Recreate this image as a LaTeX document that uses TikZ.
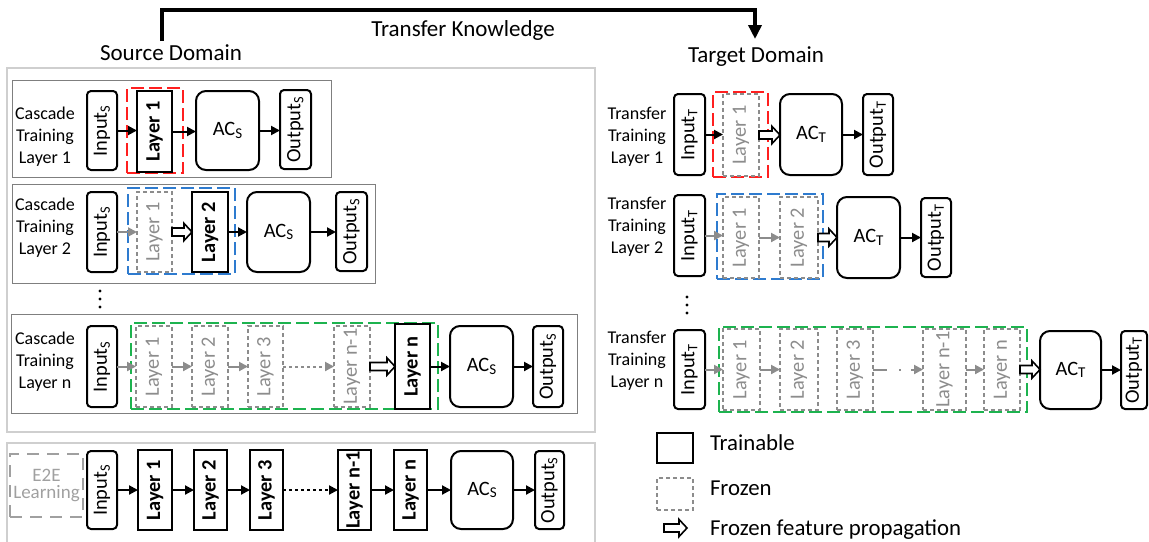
\documentclass[tikz,border=0pt]{standalone}
\usepackage{fontspec}
\setmainfont{Carlito}
\usepackage{graphicx}
\usetikzlibrary{arrows.meta,calc}
\definecolor{fz}{HTML}{8C8C8C}
\definecolor{rowgray}{HTML}{7F7F7F}
\definecolor{outergray}{HTML}{CFCFCF}
\definecolor{gred}{HTML}{FF1F1F}
\definecolor{gblue}{HTML}{2E7BCF}
\definecolor{ggreen}{HTML}{1DB34F}
\definecolor{e2egray}{HTML}{A0A0A0}
\newcommand{\bx}[7]{\node[#2, minimum width={(#5-#3)*0.5pt}, minimum height={(#6-#4)*0.5pt}] (#1) at ({(#3+#5)/2},{(#4+#6)/2}) {#7};}
\newcommand{\rt}[1]{\rotatebox{90}{#1}}
\newcommand{\hollowarr}[2]{\draw[line width=0.8pt, fill=white, line join=miter] let \p1=(#1), \p2=(#2) in (\x1,\y1+2pt) -- (\x2-4pt,\y1+2pt) -- (\x2-4pt,\y1+4.3pt) -- (\x2,\y1) -- (\x2-4pt,\y1-4.3pt) -- (\x2-4pt,\y1-2pt) -- (\x1,\y1-2pt) -- cycle;}
\newcommand{\acs}{AC\raisebox{-0.25ex}{\fontsize{7.5}{7.5}\selectfont S}}
\newcommand{\act}{AC\raisebox{-0.25ex}{\fontsize{7.5}{7.5}\selectfont T}}
\tikzset{
  every node/.style={inner sep=0pt, outer sep=0pt},
  boxfont/.style={font=\fontsize{10.2}{12}\selectfont},
  trainbox/.style={draw=black, line width=1.25pt, font=\fontsize{10.2}{12}\selectfont\bfseries},
  frozenbox/.style={draw=fz, line width=0.75pt, dash pattern=on 2pt off 1.5pt, text=fz, boxfont},
  iobox/.style={draw=black, line width=1pt, rounded corners=2pt, boxfont},
  acbox/.style={draw=black, line width=1pt, rounded corners=5pt, boxfont},
  rowbox/.style={draw=rowgray, line width=0.5pt},
  outerbox/.style={draw=outergray, line width=0.6pt},
  gredbox/.style={draw=gred, line width=0.8pt, dash pattern=on 6.5pt off 2.5pt},
  gbluebox/.style={draw=gblue, line width=0.8pt, dash pattern=on 6.5pt off 2.5pt},
  ggreenbox/.style={draw=ggreen, line width=0.8pt, dash pattern=on 6.5pt off 2.5pt},
  e2ebox/.style={draw=e2egray, line width=1.1pt, dash pattern=on 6pt off 4pt, text=e2egray, align=center, font=\fontsize{9.5}{8.8}\selectfont},
  lbl/.style={align=center, font=\fontsize{9}{11}\selectfont},
  head/.style={font=\fontsize{11.5}{13}\selectfont},
  legtext/.style={anchor=west, font=\fontsize{11.4}{13}\selectfont},
  arr/.style={line width=1pt, -{Triangle[length=4.5pt,width=4.5pt]}},
  garr/.style={arr, color=fz},
  bigarr/.style={line width=2pt, -{Triangle[length=7pt,width=6.5pt]}},
}
\begin{document}
\begin{tikzpicture}[x=0.5pt,y=-0.5pt]
\useasboundingbox (0,0) rectangle (1149,541);

% headings and top arrow
\node[head] (srcd) at (171,53) {Source Domain};
\node[head] (tk) at (463,30) {Transfer Knowledge};
\node[head] (tgtd) at (756,57) {Target Domain};
\coordinate (ts) at (162,41);
\coordinate (tc) at (755,10);
\coordinate (tt) at (755,39);
\draw[bigarr] (ts) |- (tc) -- (tt);

% outer boxes
\bx{srcbox}{outerbox}{7}{68}{595}{432}{}
\draw[outergray, line width=0.6pt] (7,548) -- (7,443) -- (595,443) -- (595,548);

% ===== Left row 1 =====
\bx{r1}{rowbox}{12}{80}{331}{177}{}
\node[lbl] (lab1) at (45,137) {Cascade\\Training\\Layer 1};
\bx{g1}{gredbox}{127}{88}{183}{173}{}
\bx{in1}{iobox}{87}{91}{117}{170}{\rt{Input\textsubscript{S}}}
\bx{l1a}{trainbox}{137}{91}{172}{172}{\rt{Layer 1}}
\bx{ac1}{acbox}{196}{91}{259}{170}{\acs}
\bx{out1}{iobox}{280}{90}{311}{169}{\rt{Output\textsubscript{S}}}
\draw[arr] (in1.east) -- (in1.east -| l1a.west);
\draw[arr] (l1a.east) -- (l1a.east -| ac1.west);
\draw[arr] (ac1.east) -- (ac1.east -| out1.west);

% ===== Left row 2 =====
\bx{r2}{rowbox}{12}{184}{375}{283}{}
\node[lbl] (lab2) at (45,228) {Cascade\\Training\\Layer 2};
\bx{g2}{gbluebox}{128}{188}{235}{274}{}
\bx{in2}{iobox}{87}{192}{117}{272}{\rt{Input\textsubscript{S}}}
\bx{l2a}{frozenbox}{137}{192}{172}{272}{\rt{Layer 1}}
\bx{l2b}{trainbox}{192}{192}{228}{272}{\rt{Layer 2}}
\bx{ac2}{acbox}{247}{192}{310}{272}{\acs}
\bx{out2}{iobox}{336}{192}{367}{271}{\rt{Output\textsubscript{S}}}
\draw[garr] (in2.east) -- (in2.east -| l2a.west);
\hollowarr{l2a.east}{l2a.east -| l2b.west}
\draw[arr] (l2b.east) -- (l2b.east -| ac2.west);
\draw[arr] (ac2.east) -- (ac2.east -| out2.west);

% dots
\foreach \yy in {291,299,307} \fill (100,\yy) circle (1.6);

% ===== Left row n =====
\bx{rn}{rowbox}{11}{314}{577}{413}{}
\node[lbl] (labn) at (45,362) {Cascade\\Training\\Layer n};
\bx{gn}{ggreenbox}{131}{323}{438}{409}{}
\bx{inn}{iobox}{87}{326}{117}{407}{\rt{Input\textsubscript{S}}}
\bx{ln1}{frozenbox}{136}{326}{172}{407}{\rt{Layer 1}}
\bx{ln2}{frozenbox}{192}{326}{228}{407}{\rt{Layer 2}}
\bx{ln3}{frozenbox}{248}{326}{283}{407}{\rt{Layer 3}}
\bx{lnm}{frozenbox}{334}{326}{370}{407}{\rt{Layer n-1}}
\bx{lnn}{trainbox}{395}{324}{430}{409}{\rt{Layer n}}
\bx{acn}{acbox}{450}{326}{513}{407}{\acs}
\bx{outn}{iobox}{533}{326}{563}{407}{\rt{Output\textsubscript{S}}}
\draw[garr] (inn.east) -- (inn.east -| ln1.west);
\draw[garr] (ln1.east) -- (ln1.east -| ln2.west);
\draw[garr] (ln2.east) -- (ln2.east -| ln3.west);
\draw[garr, dash pattern=on 1.5pt off 1.5pt] (ln3.east) -- (ln3.east -| lnm.west);
\hollowarr{lnm.east}{lnm.east -| lnn.west}
\draw[arr] (lnn.east) -- (lnn.east -| acn.west);
\draw[arr] (acn.east) -- (acn.east -| outn.west);

% ===== Bottom row (E2E) =====
\bx{e2e}{e2ebox}{10}{454}{83}{517}{E2E\\Learning}
\bx{bin}{iobox}{87}{451}{117}{529}{\rt{Input\textsubscript{S}}}
\bx{b1}{trainbox}{138}{450}{172}{530}{\rt{Layer 1}}
\bx{b2}{trainbox}{194}{450}{227}{530}{\rt{Layer 2}}
\bx{b3}{trainbox}{250}{450}{283}{530}{\rt{Layer 3}}
\bx{bm}{trainbox}{338}{450}{371}{530}{\rt{Layer n-1}}
\bx{bn}{trainbox}{394}{450}{427}{530}{\rt{Layer n}}
\bx{bac}{acbox}{451}{451}{513}{529}{\acs}
\bx{bout}{iobox}{535}{451}{564}{529}{\rt{Output\textsubscript{S}}}
\draw[arr] (bin.east) -- (bin.east -| b1.west);
\draw[arr] (b1.east) -- (b1.east -| b2.west);
\draw[arr] (b2.east) -- (b2.east -| b3.west);
\draw[arr, dash pattern=on 1.5pt off 1.5pt] (b3.east) -- (b3.east -| bm.west);
\draw[arr] (bm.east) -- (bm.east -| bn.west);
\draw[arr] (bn.east) -- (bn.east -| bac.west);
\draw[arr] (bac.east) -- (bac.east -| bout.west);

% ===== Right row 1 =====
\node[lbl] (tlab1) at (637,137) {Transfer\\Training\\Layer 1};
\bx{tg1}{gredbox}{713}{92}{768}{177}{}
\bx{tin1}{iobox}{674}{94}{705}{175}{\rt{Input\textsubscript{T}}}
\bx{tl1}{frozenbox}{723}{94}{759}{176}{\rt{Layer 1}}
\bx{tac1}{acbox}{780}{94}{842}{175}{\act}
\bx{tout1}{iobox}{863}{94}{893}{175}{\rt{Output\textsubscript{T}}}
\draw[arr] (tin1.east) -- (tin1.east -| tl1.west);
\hollowarr{tl1.east}{tl1.east -| tac1.west}
\draw[arr] (tac1.east) -- (tac1.east -| tout1.west);

% ===== Right row 2 =====
\node[lbl] (tlab2) at (637,227) {Transfer\\Training\\Layer 2};
\bx{tg2}{gbluebox}{717}{194}{823}{279}{}
\bx{tin2}{iobox}{674}{195}{705}{276}{\rt{Input\textsubscript{T}}}
\bx{t2l1}{frozenbox}{723}{197}{759}{278}{\rt{Layer 1}}
\bx{t2l2}{frozenbox}{780}{197}{818}{278}{\rt{Layer 2}}
\bx{tac2}{acbox}{837}{197}{900}{278}{\act}
\bx{tout2}{iobox}{921}{198}{951}{277}{\rt{Output\textsubscript{T}}}
\draw[garr] (tin2.east) -- (tin2.east -| t2l1.west);
\draw[garr] (t2l1.east) -- (t2l1.east -| t2l2.west);
\hollowarr{t2l2.east}{t2l2.east -| tac2.west}
\draw[arr] (tac2.east) -- (tac2.east -| tout2.west);

\foreach \yy in {297,305,313} \fill (687,\yy) circle (1.6);

% ===== Right row n =====
\node[lbl] (tlabn) at (637,361) {Transfer\\Training\\Layer n};
\bx{tgn}{ggreenbox}{719}{327}{1027}{412}{}
\bx{tinn}{iobox}{674}{330}{705}{409}{\rt{Input\textsubscript{T}}}
\bx{tn1}{frozenbox}{723}{329}{760}{410}{\rt{Layer 1}}
\bx{tn2}{frozenbox}{780}{329}{818}{410}{\rt{Layer 2}}
\bx{tn3}{frozenbox}{837}{329}{873}{410}{\rt{Layer 3}}
\bx{tnm}{frozenbox}{923}{329}{966}{410}{\rt{Layer n-1}}
\bx{tnn}{frozenbox}{984}{329}{1020}{410}{\rt{Layer n}}
\bx{tacn}{acbox}{1040}{331}{1101}{409}{\act}
\bx{toutn}{iobox}{1121}{331}{1147}{409}{\rt{Output\textsubscript{T}}}
\draw[garr] (tinn.east) -- (tinn.east -| tn1.west);
\draw[garr] (tn1.east) -- (tn1.east -| tn2.west);
\draw[garr, dash pattern=on 7pt off 6pt on 1pt off 5pt] (tn3.east) -- (tn3.east -| tnm.west);
\draw[garr] (tnm.east) -- (tnm.east -| tnn.west);
\hollowarr{tnn.east}{tnn.east -| tacn.west}
\draw[arr] (tacn.east) -- (tacn.east -| toutn.west);

% ===== Legend =====
\bx{legt}{trainbox}{657}{433}{693}{463}{}
\bx{legf}{frozenbox}{657}{478}{693}{510}{}
\coordinate (la1) at (664,528);
\coordinate (la2) at (687,528);
\hollowarr{la1}{la2}
\node[legtext] (legtt) at (710,443) {Trainable};
\node[legtext] (legft) at (710,488) {Frozen};
\node[legtext] (legat) at (710,530) {Frozen feature propagation};
\end{tikzpicture}
\end{document}
